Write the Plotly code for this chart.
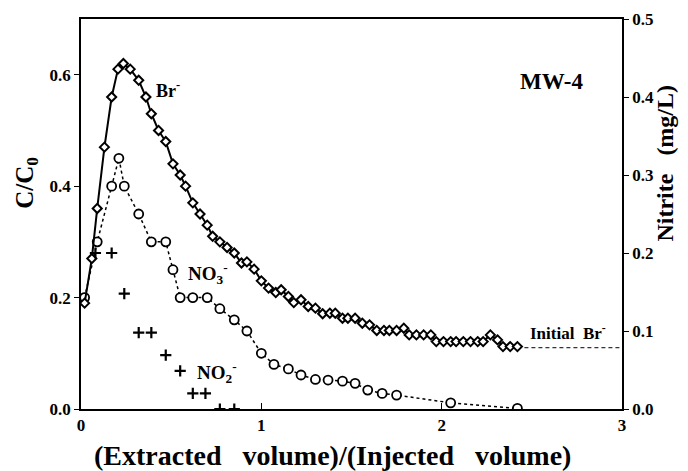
import plotly.graph_objects as go

# Br- (C/C0, left axis)
br_x = [0.02, 0.06, 0.09, 0.13, 0.17, 0.205, 0.235, 0.273, 0.32, 0.36, 0.39, 0.43, 0.47, 0.51, 0.55,
        0.58, 0.62, 0.66, 0.70, 0.73, 0.77, 0.81, 0.85, 0.89, 0.92, 0.96, 1.00, 1.04, 1.08, 1.11,
        1.15, 1.18, 1.22, 1.26, 1.30, 1.34, 1.38, 1.41, 1.45, 1.48, 1.52, 1.56, 1.60, 1.64, 1.68,
        1.71, 1.75, 1.79, 1.82, 1.86, 1.90, 1.94, 1.97, 2.01, 2.05, 2.08, 2.12, 2.16, 2.20, 2.23,
        2.27, 2.31, 2.34, 2.38, 2.42]
br_y = [0.19, 0.27, 0.36, 0.47, 0.56, 0.61, 0.62, 0.61, 0.59, 0.56, 0.53, 0.50, 0.48, 0.44, 0.42,
        0.40, 0.37, 0.35, 0.33, 0.31, 0.30, 0.29, 0.28, 0.262, 0.264, 0.251, 0.23, 0.217, 0.209, 0.214,
        0.202, 0.191, 0.196, 0.184, 0.181, 0.171, 0.172, 0.172, 0.163, 0.163, 0.163, 0.154, 0.151, 0.141, 0.141,
        0.141, 0.141, 0.145, 0.133, 0.133, 0.133, 0.133, 0.121, 0.121, 0.121, 0.121, 0.121, 0.121, 0.121, 0.121,
        0.133, 0.124, 0.112, 0.112, 0.112]

# NO3- (C/C0, left axis)
no3_x = [0.02, 0.09, 0.17, 0.21, 0.24, 0.32, 0.39, 0.47, 0.51, 0.55, 0.62, 0.70, 0.77, 0.85, 0.92,
         1.00, 1.07, 1.15, 1.22, 1.30, 1.37, 1.45, 1.52, 1.59, 1.67, 1.75, 2.05, 2.42]
no3_y = [0.20, 0.30, 0.40, 0.45, 0.40, 0.35, 0.30, 0.30, 0.25, 0.20, 0.20, 0.20, 0.18, 0.16, 0.14,
         0.10, 0.08, 0.072, 0.061, 0.053, 0.052, 0.050, 0.046, 0.034, 0.028, 0.025, 0.011, 0.001]

# NO2- (Nitrite mg/L, right axis)
no2_x = [0.08, 0.17, 0.24, 0.32, 0.39, 0.47, 0.55, 0.62, 0.69, 0.77, 0.85]
no2_y = [0.20, 0.20, 0.148, 0.098, 0.098, 0.069, 0.049, 0.020, 0.020, 0.0, 0.0]

# Initial Br- background level
init_br_x = [2.42, 3.0]
init_br_y = [0.11, 0.11]

FONT = "Liberation Serif"
SP = "\u00a0" * 3

fig = go.Figure()
fig.add_trace(go.Scatter(x=init_br_x, y=init_br_y, mode="lines",
                         line=dict(color="black", width=1, dash="4px,3px"),
                         showlegend=False))
fig.add_trace(go.Scatter(x=no3_x, y=no3_y, mode="lines+markers",
                         line=dict(color="black", width=1.5, dash="dot"),
                         marker=dict(symbol="circle", size=9, color="white", line=dict(width=1.8, color="black")),
                         showlegend=False))
fig.add_trace(go.Scatter(x=br_x, y=br_y, mode="lines+markers",
                         line=dict(color="black", width=2),
                         marker=dict(symbol="diamond", size=7, color="white", line=dict(width=2, color="black")),
                         showlegend=False))
fig.add_trace(go.Scatter(x=no2_x, y=no2_y, mode="markers", yaxis="y2",
                         marker=dict(symbol="cross-thin-open", size=8, color="black", line=dict(width=2.2, color="black")),
                         showlegend=False))

tickfont = dict(family=FONT, size=17, color="black", weight="bold")

fig.update_layout(
    width=688, height=471,
    margin=dict(l=81, r=66, t=19, b=62),
    paper_bgcolor="white", plot_bgcolor="white",
    xaxis=dict(range=[0, 3], tickvals=[0, 1, 2, 3], showline=True, linecolor="black", linewidth=1.5,
               mirror=True, ticks="inside", ticklen=6, tickcolor="black", showgrid=False, zeroline=False,
               tickfont=tickfont, automargin=False),
    yaxis=dict(range=[0, 0.7], tickvals=[0, 0.2, 0.4, 0.6], tickformat=".1f", showline=True,
               linecolor="black", linewidth=1.5, ticks="outside", ticklen=5, tickcolor="black",
               showgrid=False, zeroline=False, tickfont=tickfont, automargin=False),
    yaxis2=dict(range=[0, 0.5], tickvals=[0, 0.1, 0.2, 0.3, 0.4, 0.5], tickformat=".1f", overlaying="y",
                side="right", showline=True, linecolor="black", linewidth=1.5, ticks="outside", ticklen=5,
                tickcolor="black", showgrid=False, zeroline=False, tickfont=tickfont, automargin=False),
)

ann_font = dict(family=FONT, color="black", weight="bold")
fig.add_annotation(text="(Extracted" + SP + "volume)/(Injected" + SP + "volume)", xref="paper", yref="paper",
                   x=0.465, y=-0.118, showarrow=False, xanchor="center", yanchor="middle",
                   font=dict(size=28, **ann_font))
fig.add_annotation(text="C/C<sub>0</sub>", xref="paper", yref="paper", x=-0.10, y=0.58, textangle=-90,
                   showarrow=False, xanchor="center", yanchor="middle", font=dict(size=25, **ann_font))
fig.add_annotation(text="Nitrite\u00a0\u00a0\u00a0(mg/L)", xref="paper", yref="paper", x=1.08, y=0.63,
                   textangle=-90, showarrow=False, xanchor="center", yanchor="middle",
                   font=dict(size=24, **ann_font))
fig.add_annotation(text="MW-4", x=2.61, y=0.587, xref="x", yref="y", showarrow=False,
                   xanchor="center", yanchor="middle", font=dict(size=23, **ann_font))
fig.add_annotation(text="Br<sup>-</sup>", x=0.48, y=0.573, xref="x", yref="y", showarrow=False,
                   xanchor="center", yanchor="middle", font=dict(size=18, **ann_font))
fig.add_annotation(text="NO<sub>3</sub><sup>-</sup>", x=0.705, y=0.244, xref="x", yref="y", showarrow=False,
                   xanchor="center", yanchor="middle", font=dict(size=19, **ann_font))
fig.add_annotation(text="NO<sub>2</sub><sup>-</sup>", x=0.755, y=0.065, xref="x", yref="y", showarrow=False,
                   xanchor="center", yanchor="middle", font=dict(size=19, **ann_font))
fig.add_annotation(text="Initial\u00a0\u00a0Br<sup>-</sup>", x=2.70, y=0.138, xref="x", yref="y", showarrow=False,
                   xanchor="center", yanchor="middle", font=dict(size=17, **ann_font))

fig.write_html("out.html")
